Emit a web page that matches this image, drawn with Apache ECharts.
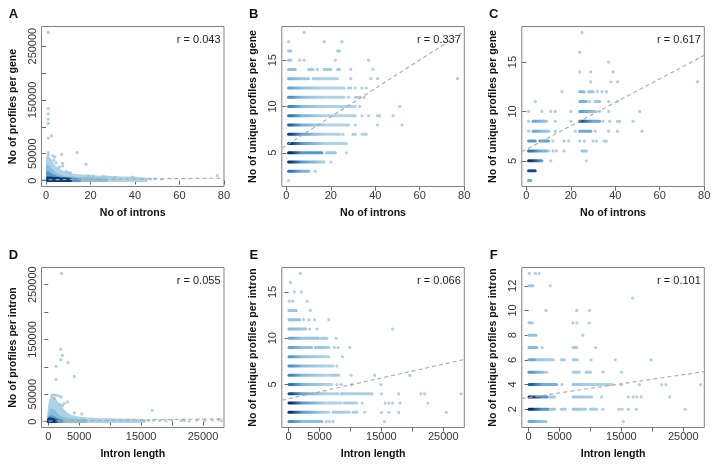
<!DOCTYPE html>
<html>
<head>
<meta charset="utf-8">
<script src="https://cdn.jsdelivr.net/npm/echarts@6/dist/echarts.min.js"></script>
<style>
html,body{margin:0;padding:0;background:#fff;}
#chart{width:718px;height:468px;}
</style>
</head>
<body>
<div id="chart"></div>
<script>
// ---------------- DATA ----------------
// tick values / labels
const intronTicks = [0, 20, 40, 60, 80];
const intronLabels = [0, 20, 40, 60, 80];
const lengthTicks = [0, 5000, 10000, 15000, 20000, 25000];
const lengthLabels = [0, 5000, 15000, 25000];
const profileTicks = [0, 50000, 100000, 150000, 200000, 250000];
const profileLabels = [0, 50000, 150000, 250000];
const uniqTicksBC = [5, 10, 15];
const uniqTicksE = [5, 10, 15];
const uniqTicksF = [2, 4, 6, 8, 10, 12];

const panelLetters = ['A', 'B', 'C', 'D', 'E', 'F'];
const correlations = ['r = 0.043', 'r = 0.337', 'r = 0.617', 'r = 0.055', 'r = 0.066', 'r = 0.101'];
const xTitles = ['No of introns', 'No of introns', 'No of introns', 'Intron length', 'Intron length', 'Intron length'];
const yTitles = ['No of profiles per gene', 'No of unique profiles per gene', 'No of unique profiles per gene',
                 'No of profiles per intron', 'No of unique profiles per intron', 'No of unique profiles per intron'];

// Panel A: dense cloud outlines [introns, profiles] (upper edge of each density level)
const aCloudLight = [[0.7,43000],[1.5,40000],[2.5,33000],[3.5,27000],[5,22000],[6.5,18000],[8,14500],[10,11500],[13,9500],[17,8500],[22,7000],[28,6000],[34,5000],[40,4200],[44,3000],[45,1500]];
const aCloudMid   = [[0.7,27000],[2,21000],[3.5,14000],[5,10000],[7,7000],[10,5200],[14,4000],[19,3200],[24,2200],[27,1200]];
const aCloudDeep  = [[0.7,15000],[2,11000],[4,7000],[6,4800],[9,3500],[12,2500],[15,1500]];
const aCloudCore  = [[0.7,5000],[3,4500],[6,3500],[9,2800],[11,1500]];
const aPoints = [[1,275500],[1,134000],[1,124000],[1,114000],[1,106500],[1,79000],[2.5,83000],[1,52000],[1,47000],[3,46000],[4,44000],[3.5,38000],[4.5,33000],[7,49000],[14,52000],[18,30500],[7.5,32000],[7.5,27000],[6,25000],[9,17000],[10,15000],[11,14500],[19,9000],[21,8000],[26,7500],[31,6000],[39,6500],[47,3000],[49,3000],[52,2500],[77,9300]];
const aFit = [[-2.04,1500],[80.04,4500]];

// Panel B: runs of overlapping genes [unique profiles, introns from, introns to, relative density]
const bRuns = [
  [16,1,2,0.1],[16,23,24,0.05],
  [15,1,2,0.1],
  [14,1,4,0.15],[14,10,12,0.05],[14,17,20,0.05],[14,23,24,0.05],
  [13,1,10,0.25],[13,12,23,0.05],
  [12,1,26,0.35],
  [11,1,26,0.45],
  [10,1,31,0.5],
  [9,1,31,0.6],
  [8,1,26,0.7],
  [7,1,24,0.85],[7,34,36,0.0],
  [6,1,27,0.95],
  [5,1,16,1.0],[5,18,22,0.1],
  [4,1,17,0.95],
  [3,1,10,0.6]
];
const bPoints = [[8,18],[1,17],[17,17],[25,17],[6,15],[8,15],[22,15],[37,15],[14,14],[29,14],[39,14],[29,13],[38,13],[41,13],[77,13],[28,12],[29,12],[31,12],[34,12],[36,12],[28,11],[31,11],[32,11],[33,11],[35,11],[33,10],[51,10],[34,9],[37,9],[41,9],[42,9],[48,9],[27,8],[28,8],[31,8],[41,8],[52,8],[25.5,7],[30,7],[31,7],[27,5],[20,4],[13,3],[1,2]];
const bFit = [[-2.04,5.5],[80.04,18.1]];

// Panel C
const cRuns = [
  [12,24,26,0.2],[12,28,30,0.1],
  [11,24,27,0.25],[11,31,33,0.1],
  [10,24,31,0.35],
  [9,3,9,0.3],[9,24,33,0.75],
  [8,3,10,0.3],[8,24,29,0.3],
  [7,1,4,0.4],[7,6,10,0.35],
  [6,1,9,0.6],[6,25,27,0.1],
  [5,1,7,0.95],
  [4,1,4,0.8],
  [3,1,2,0.3]
];
const cPoints = [[25,18],[24,16],[37,15],[24,14],[29,14],[39,14],[29,13],[38,13],[41,13],[77,13],[16,12],[32,12],[34,12],[36,12],[4,11],[28.5,11],[37,11],[41,11],[1,10],[7,10],[11,10],[13,10],[20,10],[33,10],[37,10],[51,10],[1,9],[13,9],[20,9],[34.5,9],[37.5,9],[41,9],[42,9],[48,9],[1,8],[13,8],[22,8],[31,8],[37,8],[41,8],[52,8],[12,7],[17,7],[19,7],[24,7],[26,7],[30,7],[31.5,7],[35,7],[36,7],[10,6],[12,6],[13.5,6],[17,6],[11,5],[27,5]];
const cFit = [[-2.04,5.92],[80.04,15.68]];

// Panel D: dense cloud outlines [intron length, profiles]
const dCloudLight = [[20,8000],[150,22000],[350,38000],[600,44000],[900,42000],[1300,36000],[1800,28000],[2400,20000],[3000,13500],[3800,9000],[4800,6500],[6000,5000],[8000,3800],[11000,3000],[14000,2500],[15500,1500]];
const dCloudMid   = [[20,4000],[200,13000],[500,21000],[900,19000],[1400,12000],[2000,7000],[3000,4000],[4500,2500],[6000,1500]];
const dCloudDeep  = [[20,3000],[200,7000],[500,9000],[900,7000],[1400,4000],[2200,2000]];
const dCloudCore  = [[20,3000],[200,5000],[600,4500],[1000,2500],[1300,1200]];
const dPoints = [[2150,270500],[2000,132000],[2300,121000],[2000,113000],[3200,107500],[1250,101000],[1250,77000],[4200,82400],[600,48000],[900,49000],[1300,48000],[1700,47000],[2100,45000],[1000,42000],[1900,31000],[2300,29000],[2600,33000],[3100,36000],[5400,14000],[4200,16000],[16800,20700],[15500,2000],[16200,1500],[17000,2500],[18000,1800],[19000,1200],[20000,2000],[21500,1500],[22000,2200],[22800,1000],[24000,2500],[25300,1800],[26500,2500],[27500,3500],[28000,1500]];
const dFit = [[-1100,600],[28400,5000]];

// Panel E: runs [unique profiles, length from, length to, relative density]
const eRuns = [
  [13,60,1240,0.1],
  [12,60,1800,0.15],
  [11,60,2800,0.2],
  [10,60,4800,0.3],[10,5300,6200,0.05],
  [9,60,3700,0.35],[9,4300,6500,0.1],
  [8,60,6100,0.4],
  [7,60,7200,0.45],
  [6,60,6700,0.5],[6,6900,8100,0.05],
  [5,60,7000,0.6],
  [4,60,8000,0.8],[4,8500,13500,0.05],
  [3,60,8500,1.0],[3,9000,11000,0.05],
  [2,60,6500,0.95],[2,7200,9800,0.05],[2,10400,11000,0.05],
  [1,60,5400,0.45]
];
const ePoints = [[1900,17],[300,16],[900,15],[2050,15],[100,14],[700,14],[3000,14],[3500,13],[2400,12],[3300,12],[4200,12],[6500,12],[3400,11],[4600,11],[16800,11],[7700,10],[7400,9],[8000,9],[9900,9],[6500,8],[8700,8],[7800,7],[10100,6],[13900,6],[19600,6],[7800,5],[8500,5],[10200,5],[14900,5],[15000,4],[17800,4],[21400,4],[22000,4],[27900,4],[11900,3],[15600,3],[16200,3],[16800,3],[18000,3],[22500,3],[12300,2],[15000,2],[16200,2],[17800,2],[25500,2],[6100,1],[6600,1],[7200,1],[15500,1]];
const eFit = [[-1100,3.3],[28400,7.71]];

// Panel F
const fRuns = [
  [12,60,700,0.1],
  [9,60,600,0.1],
  [8,60,1200,0.15],
  [7,60,1300,0.2],[7,7200,7800,0.05],
  [6,60,1000,0.3],[6,1400,4000,0.1],[6,5300,5800,0.05],[6,7200,7900,0.05],
  [5,60,2400,0.4],[5,7200,8200,0.05],[5,9300,10000,0.05],
  [4,60,4500,0.7],[4,7200,13500,0.1],
  [3,60,3000,1.0],[3,3400,4200,0.1],[3,7200,10200,0.1],
  [2,60,3200,1.0],[2,3500,4200,0.1],[2,5300,5900,0.05],[2,7200,9200,0.1],[2,10000,11000,0.05],
  [1,60,2800,0.3]
];
const fPoints = [[100,13],[1100,13],[1700,13],[3500,12],[16800,11],[2800,10],[7760,10],[9800,10],[7150,9],[7800,9],[9800,9],[8750,8],[2200,7],[10800,7],[10100,6],[14000,6],[19800,6],[2900,5],[12000,5],[15000,5],[5400,4],[15000,4],[17900,4],[21500,4],[22200,4],[27800,4],[11800,3],[16100,3],[16900,3],[17500,3],[18200,3],[22800,3],[12000,2],[14600,2],[15100,2],[16100,2],[17400,2],[25300,2],[15300,1]];
const fFit = [[-1100,2.87],[28400,5.05]];

// ---------------- RENDERING ----------------
const FONT = "'Liberation Sans', Arial, Helvetica, sans-serif";
const BLUES = ['#b0d2e5','#8fbfdd','#64a4d0','#3d86c1','#1f66a6','#0e4682','#082d62'];
const POINT_COLOR = '#a2c1d3';
function hex2rgb(h){return [parseInt(h.slice(1,3),16),parseInt(h.slice(3,5),16),parseInt(h.slice(5,7),16)];}
function blue(t){
  t = Math.max(0, Math.min(1, t));
  const f = t*(BLUES.length-1), i = Math.min(Math.floor(f), BLUES.length-2), u = f-i;
  const a = hex2rgb(BLUES[i]), b = hex2rgb(BLUES[i+1]);
  return 'rgb(' + a.map((v,k)=>Math.round(v+(b[k]-v)*u)).join(',') + ')';
}

function runRender(params, api){
  const y = api.value(0), x0 = api.value(1), x1 = api.value(2), d = api.value(3);
  const p0 = api.coord([x0, y]), p1 = api.coord([x1, y]);
  const h = 3.0;
  const w = Math.max(p1[0]-p0[0], 0) + h;
  const c0 = blue(d), c1 = blue(d*0.4), c2 = blue(0);
  const raw = [[0,c0],[4/w,c0],[15/w,c1],[38/w,c2]];
  const stops = [];
  let last = -1, lastColor = c0;
  raw.forEach(s => { if (s[0] < 1 && s[0] > last) { stops.push({offset:s[0], color:s[1]}); last = s[0]; lastColor = s[1]; } });
  stops.push({offset:1, color: w > 38 ? c2 : lastColor});
  return {
    type:'rect',
    shape:{x:p0[0]-h/2, y:p0[1]-h/2, width:w, height:h, r:h/2},
    style:{fill:new echarts.graphic.LinearGradient(0,0,1,0,stops)}
  };
}

function cloudRender(env, color){
  return function(params, api){
    if (params.dataIndex !== 0) return null;
    const pts = env.map(p => api.coord(p));
    pts.push(api.coord([env[env.length-1][0], 0]));
    pts.push(api.coord([env[0][0], 0]));
    return {type:'polygon', shape:{points:pts}, style:{fill:color, stroke:color, lineWidth:3, lineJoin:'round'}};
  };
}

const COLS = [41.5, 281.8, 521.8];
const ROWS = [26.5, 267.5];
const BW = 182.5, BH = 160;

const panels = [
  {xr:[-2.04,80.04], yr:[-11000,286500], xt:intronTicks, xl:intronLabels, yt:profileTicks, yl:profileLabels,
   clouds:[aCloudLight,aCloudMid,aCloudDeep,aCloudCore], pts:aPoints, fit:aFit},
  {xr:[-2.04,80.04], yr:[1.36,18.64], xt:intronTicks, xl:intronLabels, yt:uniqTicksBC, yl:uniqTicksBC,
   runs:bRuns, pts:bPoints, fit:bFit},
  {xr:[-2.04,80.04], yr:[2.4,18.6], xt:intronTicks, xl:intronLabels, yt:uniqTicksBC, yl:uniqTicksBC,
   runs:cRuns, pts:cPoints, fit:cFit},
  {xr:[-1100,28400], yr:[-10800,281300], xt:lengthTicks, xl:lengthLabels, yt:profileTicks, yl:profileLabels,
   clouds:[dCloudLight,dCloudMid,dCloudDeep,dCloudCore], pts:dPoints, fit:dFit},
  {xr:[-1100,28400], yr:[0.36,17.64], xt:lengthTicks, xl:lengthLabels, yt:uniqTicksE, yl:uniqTicksE,
   runs:eRuns, pts:ePoints, fit:eFit},
  {xr:[-1100,28400], yr:[0.52,13.48], xt:lengthTicks, xl:lengthLabels, yt:uniqTicksF, yl:uniqTicksF,
   runs:fRuns, pts:fPoints, fit:fFit}
];
const CLOUD_COLORS = ['#add1e5', '#8cbedc', '#5597c8', '#0c3a78'];
const plain = v => String(v);

const grids = [], xAxes = [], yAxes = [], series = [], graphics = [];
panels.forEach((p, i) => {
  const left = COLS[i % 3], top = ROWS[Math.floor(i / 3)];
  grids.push({left:left, top:top, width:BW, height:BH, show:true, borderColor:'#808080', borderWidth:1, backgroundColor:'transparent'});
  xAxes.push({
    gridIndex:i, type:'value', min:p.xr[0], max:p.xr[1],
    axisLine:{show:false},
    axisTick:{show:true, length:4, customValues:p.xt, lineStyle:{color:'#666'}},
    axisLabel:{show:true, customValues:p.xl, formatter:plain, fontSize:11, fontFamily:FONT, color:'#333', margin:4},
    splitLine:{show:false}
  });
  yAxes.push({
    gridIndex:i, type:'value', min:p.yr[0], max:p.yr[1],
    axisLine:{show:false},
    axisTick:{show:true, length:4, customValues:p.yt, lineStyle:{color:'#666'}},
    axisLabel:{show:true, customValues:p.yl, formatter:plain, fontSize:11, fontFamily:FONT, color:'#333', margin:3.5, rotate:90},
    splitLine:{show:false}
  });
  if (p.clouds) {
    p.clouds.forEach((env, k) => {
      series.push({type:'custom', xAxisIndex:i, yAxisIndex:i, data:env, renderItem:cloudRender(env, CLOUD_COLORS[k]), clip:true, silent:true});
    });
  }
  series.push({type:'scatter', xAxisIndex:i, yAxisIndex:i, data:p.pts, symbolSize:3.2,
    itemStyle:{color:POINT_COLOR}, clip:true, silent:true});
  if (p.runs) {
    series.push({type:'custom', xAxisIndex:i, yAxisIndex:i, data:p.runs, encode:{x:[1,2], y:0},
      renderItem:runRender, clip:true, silent:true});
  }
  series.push({type:'line', xAxisIndex:i, yAxisIndex:i, data:p.fit, symbol:'none', silent:true, clip:true,
    lineStyle:{color:'#a8a8a8', width:1.1, type:[4,3]}});

  // texts
  graphics.push({type:'text', x:left-28, y:top-11.8, style:{text:panelLetters[i], font:'bold 13px ' + FONT, fill:'#111', align:'center', verticalAlign:'middle'}});
  graphics.push({type:'text', x:left+BW-3.5, y:top+13.8, style:{text:correlations[i], font:'11px ' + FONT, fill:'#222', align:'right', verticalAlign:'middle'}});
  graphics.push({type:'text', x:left+BW/2, y:top+BH+27, style:{text:xTitles[i], font:'bold 10.6px ' + FONT, fill:'#111', align:'center', verticalAlign:'middle'}});
  graphics.push({type:'text', x:left-28.5, y:top+BH/2, rotation:Math.PI/2, style:{text:yTitles[i], font:'bold 10.6px ' + FONT, fill:'#111', align:'center', verticalAlign:'middle'}});
});

const chart = echarts.init(document.getElementById('chart'), null, {renderer:'canvas'});
chart.setOption({
  animation:false,
  backgroundColor:'#fff',
  grid:grids, xAxis:xAxes, yAxis:yAxes, series:series,
  graphic:graphics
});
</script>
</body>
</html>
